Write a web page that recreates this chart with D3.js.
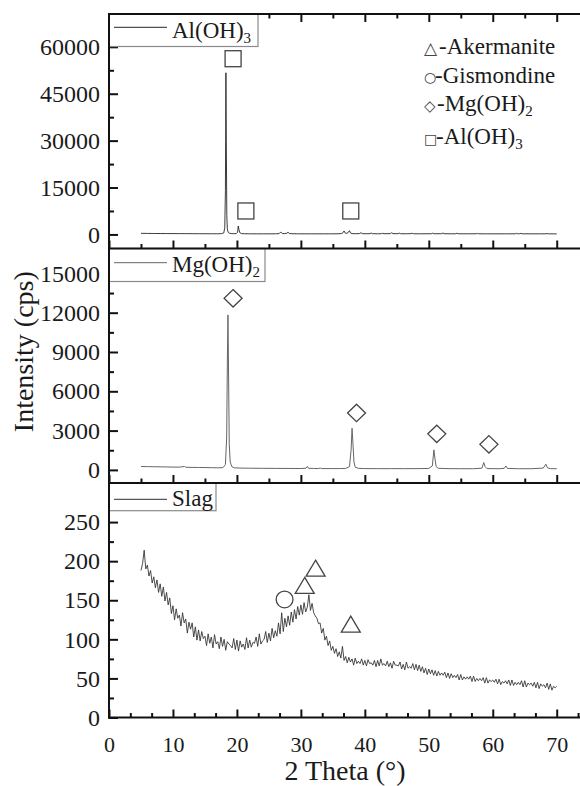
<!DOCTYPE html>
<html><head><meta charset="utf-8">
<script src="https://cdn.jsdelivr.net/npm/d3@7/dist/d3.min.js"></script>
<style>
body{margin:0;background:#fff}
svg{display:block}
text{font-family:"Liberation Serif","Times New Roman",serif;fill:#1a1a1a}
</style>
</head><body><svg id="c" width="580" height="786"></svg>
<script>
// ---------- data ----------
const xTicks = [0,10,20,30,40,50,60,70];
const alTicks = [0,15000,30000,45000,60000];
const mgTicks = [0,3000,6000,9000,12000,15000];
const slagTicks = [0,50,100,150,200,250];

const alX = [5,6,7,8,9,10,11,12,13,14,15,16,17,17.6,17.95,18.1,18.2,18.28,18.34,18.42,18.5,18.62,18.8,19.1,19.5,19.9,20.1,20.22,20.32,20.45,20.7,21.2,22,23,24,25,26,26.6,26.85,27.1,27.5,27.8,28.0,28.2,28.6,29.5,30.5,31.5,32.5,33.5,34.5,35.5,36.3,36.55,36.75,36.95,37.2,37.45,37.6,37.75,38.0,38.6,39.2,39.4,39.6,40.2,40.8,41.0,41.2,42,42.6,42.8,43,44.0,44.2,44.4,45.2,45.4,45.6,46.5,47.2,47.4,47.6,48.5,50.4,50.6,50.8,52.0,52.2,52.4,53.5,54.2,54.4,54.6,56,57.4,57.6,57.8,59,60.5,62,63.5,63.7,63.9,64.2,64.4,64.6,66,67.5,68.3,68.5,68.7,70];
const alY = [350,320,300,290,280,270,260,250,240,230,220,210,210,250,500,2200,14000,51700,30000,6000,1800,700,400,280,240,280,700,2700,1500,550,280,220,200,190,190,190,200,260,800,280,260,400,700,300,220,200,190,190,190,190,190,200,250,500,1100,400,350,700,1200,500,260,220,300,550,260,220,250,450,240,210,230,380,220,260,550,250,230,420,230,210,260,380,220,200,220,400,220,230,450,230,200,220,380,210,200,210,320,200,190,190,190,200,350,210,220,330,200,190,190,200,300,190,180];

const mgX = [5,6,7,8,9,10,11,11.8,12,13,14,15,16,17,17.8,18.2,18.4,18.52,18.6,18.68,18.8,18.95,19.2,19.6,20.5,22,24,26,28,30,30.8,31.0,31.2,32,32.8,33,33.2,35,36,37,37.6,37.85,38.0,38.12,38.3,38.5,39,40,42,44,46,48,50,50.55,50.8,50.95,51.15,51.5,53,55,57,58.3,58.6,58.8,59.1,61,61.8,62.05,62.3,64,66,67.9,68.3,68.55,69,70];
const mgY = [260,250,240,235,225,215,210,260,200,190,185,180,170,160,170,400,2500,9000,11830,8000,2000,600,250,160,140,130,120,115,110,105,130,260,120,110,100,150,100,100,100,110,250,1500,3180,2200,600,200,120,100,95,95,95,95,110,300,1530,900,250,120,95,90,90,130,560,250,100,90,120,300,110,90,90,140,435,160,95,90];

const slagStart = 5, slagStep = 0.25;
const slagY = [
188,197,214,190, 195,181,188,172, 180,166,176,160, 171,155,167,149, 160,144,153,133,
143,125,139,127, 131,117,134,121, 126,108,122,113, 121,103,116,99, 112,98,110,101,
104,92,107,95, 103,89,106,94, 97,88,103,91, 100,86,97,94, 92,89,101,87,
99,85,98,90, 94,87,102,89, 99,90,96,95, 103,91,107,94, 98,100,110,96,
108,98,114,102, 111,104,121,107, 134,110,127,116, 130,118,135,122, 138,126,142,131,
144,132,147,135, 141,157,137,146, 134,130,127,120, 121,108,114,99, 104,92,98,86,
91,82,88,78, 84,76,91,73, 78,70,77,71, 75,67,76,69, 72,69,75,67,
73,66,74,69, 70,67,73,65, 73,66,75,67, 69,66,72,65, 70,63,72,67,
67,66,71,62, 68,61,71,63, 65,63,69,61, 68,60,67,59, 65,57,63,55,
62,56,61,54, 60,53,59,54, 57,54,58,51, 57,50,56,51, 54,51,55,48,
55,48,52,49, 52,49,53,46, 53,46,50,47, 50,47,51,44, 51,44,48,46,
48,45,49,43, 49,42,46,44, 47,43,48,41, 48,41,45,42, 45,42,47,39,
47,39,44,42, 44,40,45,38, 45,37,43,40, 42,38,44,36, 43,35,40,38,
40];

const squareMarks = [[19.4,56200],[21.4,7500],[37.8,7500]];
const diamondMarks = [[19.4,13100],[38.7,4350],[51.25,2750],[59.4,1950]];
const circleMarks = [[27.45,151]];
const triangleMarks = [[30.6,169],[32.3,191],[37.8,119.5]];

const phaseLegend = [
  {sym:"\u25B3", label:"-Akermanite", sub:""},
  {sym:"\u25CB", label:"-Gismondine", sub:""},
  {sym:"\u25C7", label:"-Mg(OH)", sub:"2"},
  {sym:"\u25A1", label:"-Al(OH)", sub:"3"}
];

// ---------- drawing ----------
const SERIF = '"Liberation Serif","Times New Roman",serif';
const svg = d3.select("#c");
const x = d3.scaleLinear().domain([0,75]).range([109, 588.7]);

const panels = [
  {top:14, bottom:248.5, domain:[-4500,70500], ticks:alTicks, minorStep:7500,
   xs:alX, ys:alY, color:"#262626", width:0.9, xMinorStep:5, topAxis:true, xLabels:false,
   legend:{name:"Al(OH)", sub:"3", w:149, h:32.5, lineY:13.3, textY:23.5}},
  {top:248.5, bottom:483, domain:[-1000,16900], ticks:mgTicks, minorStep:1500,
   xs:mgX, ys:mgY, color:"#666", width:1, xMinorStep:5, topAxis:false, xLabels:false,
   legend:{name:"Mg(OH)", sub:"2", w:156, h:33, lineY:14.2, textY:23.5}},
  {top:483, bottom:717.5, domain:[0,300], ticks:slagTicks, minorStep:25,
   xs:slagY.map((d,i)=>slagStart+i*slagStep), ys:slagY, color:"#2e2e2e", width:0.85, xMinorStep:10/3, topAxis:false, xLabels:true,
   legend:{name:"Slag", sub:"", w:107, h:27.7, lineY:16.3, textY:22.5}}
];

panels.forEach((p, pi) => {
  const y = d3.scaleLinear().domain(p.domain).range([p.bottom, p.top]);
  p.y = y;
  const g = svg.append("g");
  g.append("path")
    .datum(p.ys)
    .attr("fill","none")
    .attr("stroke",p.color)
    .attr("stroke-width",p.width)
    .attr("stroke-linejoin","round")
    .attr("d", d3.line().x((d,i)=>x(p.xs[i])).y(d=>y(d)));

  const ya = g.append("g").attr("transform",`translate(${x(0)},0)`)
    .call(d3.axisLeft(y).tickValues(p.ticks).tickSizeInner(-9).tickSizeOuter(0).tickPadding(9).tickFormat(d3.format("d")));
  ya.select(".domain").remove();
  ya.attr("font-family",SERIF);
  ya.selectAll("line").attr("stroke","#111").attr("stroke-width",2);
  ya.selectAll("text").attr("font-size",24).attr("fill","#1a1a1a").style("font-family",SERIF);
  const minor = d3.range(p.ticks[0]+p.minorStep, p.domain[1], p.minorStep*2);
  const ym = g.append("g").attr("transform",`translate(${x(0)},0)`)
    .call(d3.axisLeft(y).tickValues(minor).tickSizeInner(-5).tickSizeOuter(0).tickFormat(""));
  ym.select(".domain").remove();
  ym.selectAll("line").attr("stroke","#111").attr("stroke-width",2);

  const xa = g.append("g").attr("transform",`translate(0,${p.bottom})`)
    .call(d3.axisBottom(x).tickValues(xTicks).tickSizeInner(-8).tickSizeOuter(0).tickPadding(19)
      .tickFormat(p.xLabels ? d3.format("d") : ""));
  xa.select(".domain").remove();
  xa.attr("font-family",SERIF);
  xa.selectAll("line").attr("stroke","#111").attr("stroke-width",2);
  xa.selectAll("text").attr("font-size",22).attr("fill","#1a1a1a").style("font-family",SERIF);
  const xMinorVals = d3.range(0, 74, p.xMinorStep).filter(v => Math.abs(v/10 - Math.round(v/10)) > 1e-6);
  const xm = g.append("g").attr("transform",`translate(0,${p.bottom})`)
    .call(d3.axisBottom(x).tickValues(xMinorVals).tickSizeInner(-4.5).tickSizeOuter(0).tickFormat(""));
  xm.select(".domain").remove();
  xm.selectAll("line").attr("stroke","#111").attr("stroke-width",2);

  if (p.topAxis) {
    const ta = g.append("g").attr("transform",`translate(0,${p.top})`)
      .call(d3.axisTop(x).tickValues(xTicks).tickSizeInner(-8).tickSizeOuter(0).tickFormat(""));
    ta.select(".domain").remove();
    ta.selectAll("line").attr("stroke","#111").attr("stroke-width",2);
    const tm = g.append("g").attr("transform",`translate(0,${p.top})`)
      .call(d3.axisTop(x).tickValues(d3.range(5,74,10)).tickSizeInner(-4.5).tickSizeOuter(0).tickFormat(""));
    tm.select(".domain").remove();
    tm.selectAll("line").attr("stroke","#111").attr("stroke-width",2);
  }

  const L = p.legend;
  const lg = g.append("g").attr("transform",`translate(${x(0)},${p.top})`);
  lg.append("rect").attr("x",0).attr("y",0).attr("width",L.w).attr("height",L.h)
    .attr("fill","#fff").attr("stroke","#8a8a8a").attr("stroke-width",1.2);
  lg.append("line").attr("x1",5).attr("x2",58).attr("y1",L.lineY).attr("y2",L.lineY)
    .attr("stroke",p.color).attr("stroke-width",1);
  const lt = lg.append("text").attr("x",63).attr("y",L.textY).attr("font-size",23).style("font-family",SERIF);
  lt.append("tspan").text(L.name);
  if (L.sub) lt.append("tspan").attr("dy",5).attr("font-size",15).text(L.sub);
});

// markers
const mk = svg.append("g").attr("fill","none").attr("stroke","#444").attr("stroke-width",1.3);
const py0 = panels[0].y, py1 = panels[1].y, py2 = panels[2].y;
mk.selectAll(".sq").data(squareMarks).join("rect")
  .attr("x",d=>x(d[0])-8).attr("y",d=>py0(d[1])-8).attr("width",16).attr("height",16);
mk.selectAll(".dm").data(diamondMarks).join("path")
  .attr("d",d=>{const cx=x(d[0]), cy=py1(d[1]); return `M${cx},${cy-8.7}L${cx+9},${cy}L${cx},${cy+8.7}L${cx-9},${cy}Z`;});
mk.selectAll(".ci").data(circleMarks).join("circle")
  .attr("cx",d=>x(d[0])).attr("cy",d=>py2(d[1])).attr("r",8.4);
mk.selectAll(".tr").data(triangleMarks).join("path")
  .attr("d",d=>{const cx=x(d[0]), cy=py2(d[1]); return `M${cx},${cy-8}L${cx+9.5},${cy+8}L${cx-9.5},${cy+8}Z`;});

// frame
const fr = svg.append("g").attr("stroke","#111").attr("stroke-width",2).attr("fill","none");
fr.append("line").attr("x1",x(0)).attr("x2",x(0)).attr("y1",panels[0].top-1).attr("y2",panels[2].bottom+1);
fr.append("line").attr("x1",x(0)-1).attr("x2",x(75)).attr("y1",panels[0].top).attr("y2",panels[0].top);
panels.forEach(p => {
  fr.append("line").attr("x1",x(0)-1).attr("x2",x(75)).attr("y1",p.bottom).attr("y2",p.bottom);
});

// phase legend
const pl = svg.append("g");
const plY = [54.3, 83.3, 111, 144];
const plSymX = [424, 424, 424, 424];
const plSymSize = [17, 14, 15, 14];
const plSymDy = [0, -1.5, 0, 0];
const plLabelX = [439, 435, 437, 436];
phaseLegend.forEach((d,i) => {
  const t = pl.append("text").attr("y", plY[i]).attr("font-size",23).style("font-family",SERIF);
  t.append("tspan").attr("x",plSymX[i]).attr("dy",plSymDy[i]).attr("font-size",plSymSize[i])
    .style("font-family",'"DejaVu Sans",sans-serif').attr("fill","#444").text(d.sym);
  t.append("tspan").attr("x",plLabelX[i]).attr("dy",-plSymDy[i]).text(d.label);
  if (d.sub) t.append("tspan").attr("dy",5).attr("font-size",15).text(d.sub);
});

// axis titles
svg.append("text").attr("transform","translate(33,351.7) rotate(-90)")
  .attr("text-anchor","middle").attr("font-size",28).style("font-family",SERIF).text("Intensity (cps)");
svg.append("text").attr("x",345).attr("y",780)
  .attr("text-anchor","middle").attr("font-size",28).style("font-family",SERIF).text("2 Theta (\u00B0)");
</script>
</body></html>
